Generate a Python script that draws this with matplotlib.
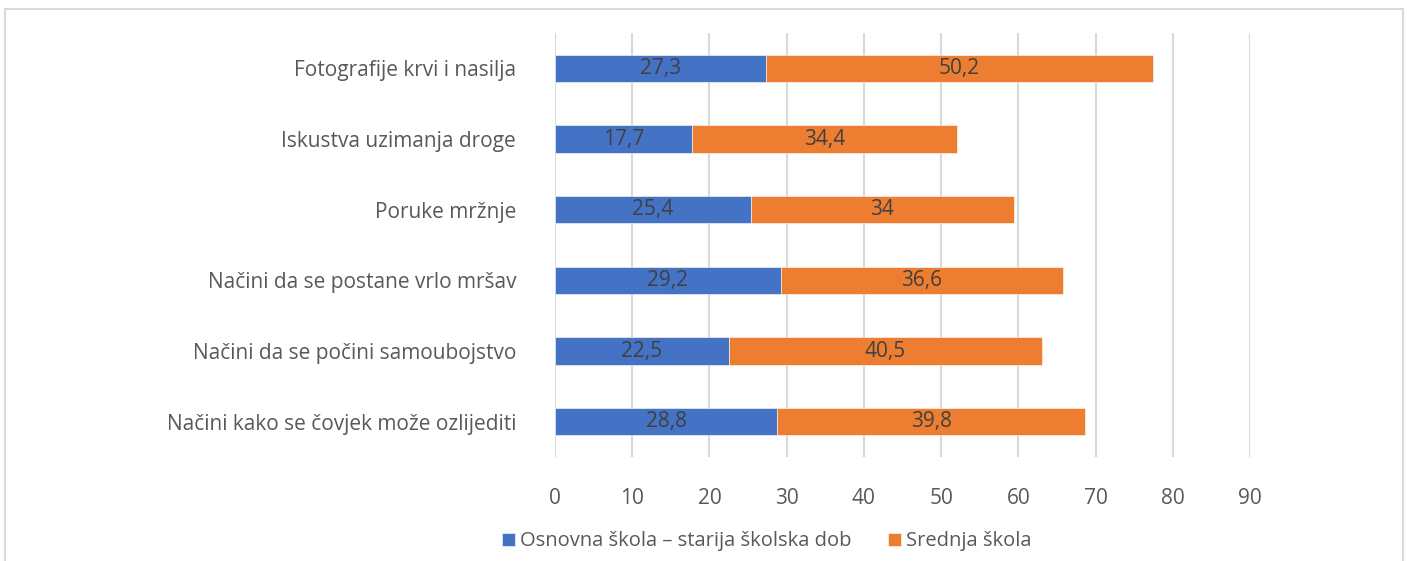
import matplotlib.pyplot as plt
import matplotlib.patches as mpatches
import numpy as np

# Data
categories = [
    "Fotografije krvi i nasilja",
    "Iskustva uzimanja droge",
    "Poruke mržnje",
    "Načini da se postane vrlo mršav",
    "Načini da se počini samoubojstvo",
    "Načini kako se čovjek može ozlijediti",
]
osnovna = [27.3, 17.7, 25.4, 29.2, 22.5, 28.8]
srednja = [50.2, 34.4, 34.0, 36.6, 40.5, 39.8]
series_names = ["Osnovna škola – starija školska dob", "Srednja škola"]

blue = "#4472C4"
orange = "#ED7D31"
text_col = "#595959"
grid_col = "#D9D9D9"

plt.rcParams['font.family'] = ['Open Sans', 'DejaVu Sans']

fig = plt.figure(figsize=(14.07, 5.61), dpi=100)
ax = fig.add_axes([0.3945, 0.1854, 0.8884 - 0.3945, 0.941 - 0.1854])

y = np.arange(len(categories))
b1 = ax.barh(y, osnovna, height=0.39, color=blue, edgecolor="white", linewidth=0.4,
             label=series_names[0])
b2 = ax.barh(y, srednja, left=osnovna, height=0.39, color=orange, edgecolor="white",
             linewidth=0.4, label=series_names[1])


def fmt(v):
    s = f"{v:.1f}".replace(".", ",")
    return s[:-2] if s.endswith(",0") else s


for bars, vals in ((b1, osnovna), (b2, srednja)):
    ax.bar_label(bars, labels=[fmt(v) for v in vals], label_type="center",
                 color="#404040", fontsize=15)

ax.set_xlim(0, 90)
ax.set_ylim(len(categories) - 0.5, -0.5)
ax.set_xticks(np.arange(0, 91, 10))
ax.set_yticks(y)
ax.set_yticklabels(categories)
ax.xaxis.grid(True, color=grid_col, linewidth=1.5)
ax.set_axisbelow(True)
for s in ax.spines.values():
    s.set_visible(False)
ax.tick_params(axis="both", length=0, labelcolor=text_col, labelsize=15)
ax.tick_params(axis="x", pad=22)
ax.tick_params(axis="y", pad=28)

fig.legend(handles=[b1, b2], loc="center", bbox_to_anchor=(0.545, 0.035), ncol=2,
           frameon=False, fontsize=14.5, labelcolor=text_col, handlelength=0.65,
           handleheight=0.65, handletextpad=0.25, columnspacing=1.8)

# light border around the chart area
fig.patches.append(mpatches.Rectangle((5 / 1407, -0.05), 1398 / 1407, 1.05 - 9 / 561,
                                      transform=fig.transFigure, fill=False,
                                      edgecolor=grid_col, linewidth=1.5))

fig.savefig("out.png", dpi=100)
